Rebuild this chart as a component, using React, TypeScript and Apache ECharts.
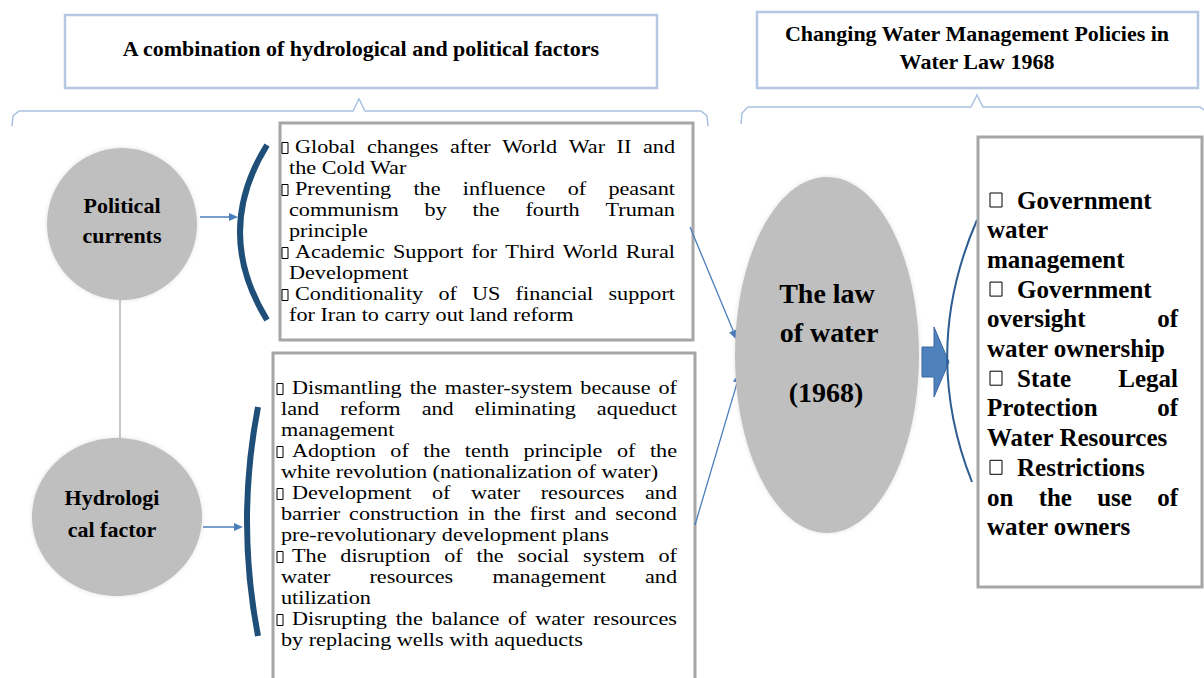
import React, { useEffect, useRef } from 'react';
import * as echarts from 'echarts';

const headerLeft = 'A combination of hydrological and political factors';
const headerRight = ['Changing Water Management Policies in', 'Water Law 1968'];
const politicalLabel = ['Political', 'currents'];
const hydroLabel = ['Hydrologi', 'cal factor'];
const lawLabel = ['The law', 'of water', '(1968)'];

const politicalItems: string[][] = [
  ['Global changes after World War II and', 'the Cold War'],
  ['Preventing the influence of peasant', 'communism by the fourth Truman', 'principle'],
  ['Academic Support for Third World Rural', 'Development'],
  ['Conditionality of US financial support', 'for Iran to carry out land reform'],
];

const hydroItems: string[][] = [
  ['Dismantling the master-system because of', 'land reform and eliminating aqueduct', 'management'],
  ['Adoption of the tenth principle of the', 'white revolution (nationalization of water)'],
  ['Development of water resources and', 'barrier construction in the first and second', 'pre-revolutionary development plans'],
  ['The disruption of the social system of', 'water resources management and', 'utilization'],
  ['Disrupting the balance of water resources', 'by replacing wells with aqueducts'],
];

const policyItems: string[][] = [
  ['Government', 'water', 'management'],
  ['Government', 'oversight of', 'water ownership'],
  ['State Legal', 'Protection of', 'Water Resources'],
  ['Restrictions', 'on the use of', 'water owners'],
];

const FAMILY = 'Liberation Serif';
const BLUE = '#4a7ebb';
const DARK = '#1f4e79';

type F = { size: number; weight: string; sx?: number };

let mctx: CanvasRenderingContext2D | null = null;
function measure(text: string, f: F): number {
  if (!mctx) mctx = document.createElement('canvas').getContext('2d');
  mctx!.font = `${f.weight} ${f.size}px "${FAMILY}"`;
  return mctx!.measureText(text).width * (f.sx || 1);
}

function textEl(text: string, x: number, y: number, f: F, align = 'left') {
  return {
    type: 'text', x, y, silent: true,
    scaleX: f.sx || 1,
    style: {
      text, fontFamily: FAMILY, fontSize: f.size, fontWeight: f.weight, fill: '#000',
      align, textAlign: align, verticalAlign: 'middle', textVerticalAlign: 'middle',
    },
  };
}

function paragraphBlock(paras: string[][], cfg: any) {
  const els: any[] = [];
  let idx = 0;
  const f: F = cfg.font;
  paras.forEach((lines) => {
    lines.forEach((line, i) => {
      const y = cfg.y0 + idx * cfg.pitch;
      const start = i === 0 ? cfg.firstX : cfg.contX;
      if (i === 0) {
        els.push({
          type: 'rect', silent: true,
          shape: { x: cfg.bx, y: y - cfg.bh / 2 + cfg.bdy, width: cfg.bw, height: cfg.bh },
          style: { fill: 'none', stroke: '#000', lineWidth: 1 },
        });
      }
      const words = line.split(' ');
      const justify = i < lines.length - 1 && words.length > 1;
      if (!justify) {
        els.push(textEl(line, start, y, f));
      } else {
        const widths = words.map((w) => measure(w, f));
        const total = widths.reduce((a, b) => a + b, 0);
        const gap = (cfg.right - start - total) / (words.length - 1);
        let x = start;
        words.forEach((w, k) => {
          els.push(textEl(w, x, y, f));
          x += widths[k] + gap;
        });
      }
      idx++;
    });
  });
  return els;
}

function arrow(x1: number, y1: number, x2: number, y2: number, color: string, w = 1.5, head = 10, hw = 4.5) {
  const dx = x2 - x1, dy = y2 - y1;
  const L = Math.hypot(dx, dy);
  const ux = dx / L, uy = dy / L;
  const bx = x2 - ux * head, by = y2 - uy * head;
  return [
    { type: 'line', silent: true, shape: { x1, y1, x2: bx, y2: by }, style: { stroke: color, lineWidth: w } },
    {
      type: 'polygon', silent: true,
      shape: { points: [[x2, y2], [bx - uy * hw, by + ux * hw], [bx + uy * hw, by - ux * hw]] },
      style: { fill: color },
    },
  ];
}

export default function App() {
  const ref = useRef<HTMLDivElement>(null);
  useEffect(() => {
    if (!ref.current) return;
    const chart = echarts.init(ref.current, undefined, { renderer: 'svg' });
    const hdrFont: F = { size: 22, weight: 'bold' };
    const circFont: F = { size: 22, weight: 'bold' };
    const lawFont: F = { size: 28, weight: 'bold' };
    const bodyFont: F = { size: 18.5, weight: 'normal', sx: 1.2 };
    const polFont: F = { size: 25, weight: 'bold' };
    const headerStroke = '#b4c8e4';
    const boxStroke = '#a6a6a6';

    const els: any[] = [];
    // header boxes
    els.push({ type: 'rect', silent: true, shape: { x: 65, y: 15, width: 592, height: 73 }, style: { fill: '#fff', stroke: headerStroke, lineWidth: 2.5 } });
    els.push(textEl(headerLeft, 361, 48, hdrFont, 'center'));
    els.push({ type: 'rect', silent: true, shape: { x: 757, y: 12, width: 441, height: 76 }, style: { fill: '#fff', stroke: headerStroke, lineWidth: 2.5 } });
    els.push(textEl(headerRight[0], 977, 33, hdrFont, 'center'));
    els.push(textEl(headerRight[1], 977, 61, hdrFont, 'center'));
    // header braces
    els.push({ type: 'polyline', silent: true, shape: { points: [[12, 126], [13, 116], [19, 111], [353, 111], [359, 99], [365, 111], [701, 111], [707, 116], [708, 126]] }, style: { stroke: '#a9c1e2', lineWidth: 1.5, fill: 'none' } });
    els.push({ type: 'polyline', silent: true, shape: { points: [[741, 124], [742, 113], [748, 107], [971, 107], [977, 95], [983, 107], [1200, 107], [1204, 110]] }, style: { stroke: '#a9c1e2', lineWidth: 1.5, fill: 'none' } });

    // connector between circles
    els.push({ type: 'line', silent: true, shape: { x1: 120, y1: 298, x2: 120, y2: 440 }, style: { stroke: '#c8c8c8', lineWidth: 2 } });
    // circles
    els.push({ type: 'ellipse', silent: true, shape: { cx: 122, cy: 224, rx: 75, ry: 76 }, style: { fill: '#bfbfbf', shadowBlur: 4, shadowColor: 'rgba(0,0,0,0.12)' } });
    els.push(textEl(politicalLabel[0], 122, 205, circFont, 'center'));
    els.push(textEl(politicalLabel[1], 122, 235, circFont, 'center'));
    els.push({ type: 'ellipse', silent: true, shape: { cx: 117, cy: 517, rx: 85, ry: 79 }, style: { fill: '#bfbfbf', shadowBlur: 4, shadowColor: 'rgba(0,0,0,0.12)' } });
    els.push(textEl(hydroLabel[0], 112, 497, circFont, 'center'));
    els.push(textEl(hydroLabel[1], 112, 529, circFont, 'center'));

    // arrows from circles
    els.push(...arrow(200, 217, 238, 217, BLUE, 1.5, 9, 4));
    els.push(...arrow(203, 527, 243, 527, BLUE, 1.5, 9, 4));

    // dark brackets
    els.push({ type: 'bezierCurve', silent: true, shape: { x1: 267, y1: 145, x2: 267, y2: 320, cpx1: 213, cpy1: 232 }, style: { stroke: DARK, lineWidth: 6, fill: 'none' } });
    els.push({ type: 'bezierCurve', silent: true, shape: { x1: 258, y1: 407, x2: 258, y2: 636, cpx1: 236, cpy1: 521 }, style: { stroke: DARK, lineWidth: 6, fill: 'none' } });

    // text boxes
    els.push({ type: 'rect', silent: true, shape: { x: 280, y: 123, width: 413, height: 217 }, style: { fill: '#fff', stroke: boxStroke, lineWidth: 3 } });
    els.push(...paragraphBlock(politicalItems, { font: bodyFont, y0: 147, pitch: 21, firstX: 295, contX: 289, right: 675, bx: 282, bw: 6, bh: 11, bdy: 1 }));
    els.push({ type: 'rect', silent: true, shape: { x: 273, y: 353, width: 422, height: 340 }, style: { fill: '#fff', stroke: boxStroke, lineWidth: 3 } });
    els.push(...paragraphBlock(hydroItems, { font: bodyFont, y0: 388, pitch: 21, firstX: 292, contX: 281, right: 677, bx: 277, bw: 6, bh: 11, bdy: 1 }));

    // arrows to law ellipse
    els.push(...arrow(690, 227, 737, 340, BLUE, 1.3, 10, 4.5));
    els.push(...arrow(695, 525, 740, 373, BLUE, 1.3, 10, 4.5));

    // law ellipse
    els.push({ type: 'ellipse', silent: true, shape: { cx: 827, cy: 355, rx: 92, ry: 178 }, style: { fill: '#bfbfbf', shadowBlur: 4, shadowColor: 'rgba(0,0,0,0.12)' } });
    els.push(textEl(lawLabel[0], 827, 293, lawFont, 'center'));
    els.push(textEl(lawLabel[1], 829, 332, lawFont, 'center'));
    els.push(textEl(lawLabel[2], 826, 392, lawFont, 'center'));

    // block arrow
    els.push({ type: 'polygon', silent: true, shape: { points: [[922, 347], [934, 347], [934, 327], [949, 362], [934, 397], [934, 377], [922, 377]] }, style: { fill: '#4f81bd', stroke: '#3a67a0', lineWidth: 1 } });

    // thin arc
    els.push({ type: 'bezierCurve', silent: true, shape: { x1: 977, y1: 220, x2: 972, y2: 482, cpx1: 920, cpy1: 351 }, style: { stroke: '#2e5d92', lineWidth: 2, fill: 'none' } });

    // right box
    els.push({ type: 'rect', silent: true, shape: { x: 978, y: 137, width: 224, height: 450 }, style: { fill: '#fff', stroke: boxStroke, lineWidth: 3 } });
    els.push(...paragraphBlock(policyItems, { font: polFont, y0: 200, pitch: 29.7, firstX: 1017, contX: 987, right: 1178, bx: 990, bw: 12, bh: 14, bdy: 0 }));

    chart.setOption({ animation: false, graphic: { elements: els } });
    return () => chart.dispose();
  }, []);
  return <div ref={ref} style={{ position: 'fixed', left: 0, top: 0, width: 1204, height: 678, background: '#fff' }} />;
}
